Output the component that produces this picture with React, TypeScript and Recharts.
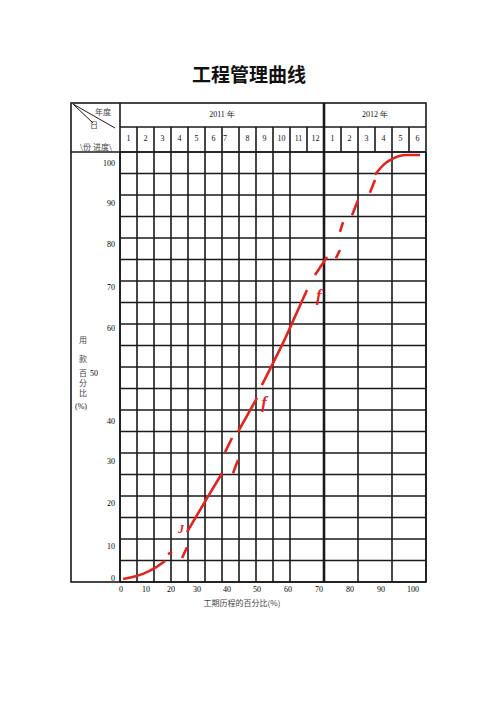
import React from 'react';
import { ComposedChart, Line, Scatter, XAxis, YAxis, CartesianGrid, ReferenceLine } from 'recharts';

// header labels
const yearLabels = ['2011 年', '2012 年'];
const monthLabels = ['1', '2', '3', '4', '5', '6', '7', '8', '9', '10', '11', '12', '1', '2', '3', '4', '5', '6'];

// x axis: values in month units where each label sits, and the label text
const xTickValues = [0.06, 1.53, 3.0, 4.53, 6.29, 8.06, 9.88, 11.7, 13.53, 15.35, 17.24];
const xTickLabels = ['0', '10', '20', '30', '40', '50', '60', '70', '80', '90', '100'];

// y axis: where each label sits (percent units) and its text
const yTickValues = [0.9, 8.4, 18.4, 28.1, 37.4, 48.6, 59.1, 68.6, 78.6, 88.1, 97.4];
const yTickLabels = ['0', '10', '20', '30', '40', '50', '60', '70', '80', '90', '100'];

// main red curve (m = month, p = percent); nulls are breaks
const mainCurve = [
  { m: 0.18, p: 0.7 }, { m: 1.35, p: 1.9 }, { m: 2.06, p: 3.3 }, { m: 2.65, p: 4.9 },
  { m: 3.3, p: null },
  { m: 3.94, p: 11.6 }, { m: 5.12, p: 19.5 }, { m: 6.0, p: 25.3 },
  { m: 6.5, p: null },
  { m: 6.94, p: 34.9 }, { m: 8.06, p: 42.8 },
  { m: 8.2, p: null },
  { m: 8.35, p: 45.8 }, { m: 9.0, p: 50.9 }, { m: 9.59, p: 55.6 }, { m: 10.12, p: 60.2 }, { m: 11.0, p: 67.9 },
  { m: 11.2, p: null },
  { m: 11.47, p: 71.4 }, { m: 12.18, p: 75.6 },
  { m: 13.0, p: null },
  { m: 15.0, p: 94.7 }, { m: 15.5, p: 97.0 }, { m: 15.88, p: 98.1 }, { m: 16.88, p: 99.3 }, { m: 17.65, p: 99.3 },
];

// short shifted pieces of the line
const fragments = [
  { m: 2.82, p: 6.5 }, { m: 3.06, p: 7.0 }, { m: 3.3, p: null },
  { m: 3.65, p: 5.6 }, { m: 3.94, p: 8.1 }, { m: 4.0, p: null },
  { m: 6.18, p: 30.2 }, { m: 6.59, p: 33.5 }, { m: 6.6, p: null },
  { m: 6.65, p: 25.3 }, { m: 6.94, p: 28.4 }, { m: 7.0, p: null },
  { m: 12.7, p: 75.3 }, { m: 12.94, p: 77.2 }, { m: 12.95, p: null },
  { m: 12.94, p: 81.4 }, { m: 13.12, p: 83.7 }, { m: 13.2, p: null },
  { m: 13.65, p: 85.3 }, { m: 14.0, p: 88.8 }, { m: 14.1, p: null },
  { m: 14.7, p: 90.5 }, { m: 15.0, p: 93.5 },
];

// handwritten-looking marks on the scan
const glyphs = [
  { m: 3.59, p: 12.3, ch: 'J' },
  { m: 8.47, p: 41.9, ch: 'f' },
  { m: 11.7, p: 66.7, ch: 'f' },
];

const MONTHS = 18;
const gridX = Array.from({ length: MONTHS + 1 }, (_, i) => i);
const gridY = Array.from({ length: 21 }, (_, i) => i * 5);

const W = 496;
const H = 702;
const L = 120, R = 426, T = 152, B = 582, TOP = 103, ROW = 127, OUT = 71;
const COL = (R - L) / MONTHS;
const RED = '#e3231f';
const INK = '#1a1a1a';
const NUM = { fontFamily: '"Liberation Serif", serif', fontSize: 8, fill: '#000' };

const YTick = (props: any) => {
  const { x, y, payload } = props;
  const i = yTickValues.indexOf(payload.value);
  const label = yTickLabels[i];
  const shift = label === '50' ? -17 : 0;
  return (
    <text x={x + shift} y={y} dy="0.35em" textAnchor="end" {...NUM}>{label}</text>
  );
};

const XTick = (props: any) => {
  const { x, y, payload } = props;
  const label = xTickLabels[xTickValues.indexOf(payload.value)];
  return (
    <text x={x} y={y} dy="0.71em" textAnchor="middle" {...NUM}>{label}</text>
  );
};

const Glyph = (props: any) => {
  const { cx, cy, payload } = props;
  const big = payload.ch === 'f';
  return (
    <text x={cx} y={cy} dy="0.35em" textAnchor="middle" fill={RED}
      style={{ fontFamily: '"Liberation Serif", serif', fontStyle: 'italic', fontWeight: 'bold', fontSize: big ? 17 : 12 }}>
      {payload.ch}
    </text>
  );
};

const txt = (x: number, y: number, s: string, style: React.CSSProperties = {}) => (
  <div key={`${x}-${y}-${s}`} style={{
    position: 'absolute', left: x, top: y, transform: 'translate(-50%, -50%)',
    whiteSpace: 'nowrap', fontSize: 8, color: '#222', lineHeight: 1, ...style,
  }}>{s}</div>
);

export default function App() {
  const cjk = { fontFamily: '"Noto Sans CJK SC", sans-serif', color: '#444' };
  const num = { fontFamily: '"Liberation Serif", serif', color: '#111' };
  return (
    <div style={{ position: 'absolute', left: 0, top: 0, width: W, height: H, background: '#fff', overflow: 'hidden' }}>
      {txt(249, 73, '工程管理曲线', { fontFamily: '"Noto Sans CJK SC", sans-serif', fontSize: 19, fontWeight: 'bold', color: '#111' })}

      <ComposedChart width={W} height={H} margin={{ top: T, left: L - 40, right: W - R, bottom: H - B - 20 }}
        style={{ position: 'absolute', left: 0, top: 0 }}>
        <CartesianGrid stroke={INK} strokeWidth={1.6} horizontalValues={gridY} verticalValues={gridX} />
        <XAxis xAxisId={0} dataKey="m" type="number" domain={[0, MONTHS]} height={0} hide />
        <XAxis xAxisId="pct" dataKey="m" type="number" domain={[0, MONTHS]} ticks={xTickValues}
          axisLine={false} tickLine={false} tickSize={0} tickMargin={4} height={20} interval={0}
          tick={<XTick />} />
        <YAxis dataKey="p" type="number" domain={[0, 100]} ticks={yTickValues} width={40}
          axisLine={false} tickLine={false} tickSize={0} tickMargin={5} interval={0} tick={<YTick />} />
        <ReferenceLine x={12} stroke={INK} strokeWidth={2.6} />
        <Line data={mainCurve} dataKey="p" type="monotone" stroke={RED} strokeWidth={2.6}
          dot={false} connectNulls={false} isAnimationActive={false} />
        <Line data={fragments} dataKey="p" type="linear" stroke={RED} strokeWidth={2.6}
          dot={false} connectNulls={false} isAnimationActive={false} />
        <Scatter xAxisId="pct" data={glyphs} dataKey="p" shape={<Glyph />} isAnimationActive={false} />
      </ComposedChart>

      <svg width={W} height={H} style={{ position: 'absolute', left: 0, top: 0 }}>
        <g stroke={INK} strokeWidth={1.6} fill="none">
          <rect x={OUT} y={TOP} width={R - OUT} height={B - TOP} />
          <line x1={L} y1={ROW} x2={R} y2={ROW} />
          <line x1={OUT} y1={T} x2={R} y2={T} />
          <line x1={L} y1={TOP} x2={L} y2={B} />
          {monthLabels.map((_, i) => i > 0 && (
            <line key={i} x1={L + COL * i} y1={ROW} x2={L + COL * i} y2={T} strokeWidth={i === 12 ? 2.6 : 1.6} />
          ))}
          <line x1={L + COL * 12} y1={TOP} x2={L + COL * 12} y2={ROW} strokeWidth={2.6} />
          <line x1={73} y1={104} x2={115} y2={128} strokeWidth={1} />
          <line x1={73} y1={104} x2={93} y2={123} strokeWidth={1} />
        </g>
      </svg>

      {txt(103, 112, '年度', cjk)}
      {txt(94, 125, '日', cjk)}
      {txt(96, 147, '\\份 进度\\', cjk)}
      {txt(L + COL * 6, 115, yearLabels[0], num)}
      {txt(L + COL * 15, 115, yearLabels[1], num)}
      {monthLabels.map((m, i) =>
        txt(i === 6 ? L + COL * i + 3 : L + COL * (i + 0.5), 139, m, num))}

      {txt(83, 340, '用', cjk)}
      {txt(83, 359, '款', cjk)}
      {txt(83, 373, '百', cjk)}
      {txt(83, 383, '分', cjk)}
      {txt(83, 393, '比', cjk)}
      {txt(81, 407, '(%)', num)}

      {txt(242, 603, '工期历程的百分比(%)', { ...cjk, fontSize: 8 })}
    </div>
  );
}
